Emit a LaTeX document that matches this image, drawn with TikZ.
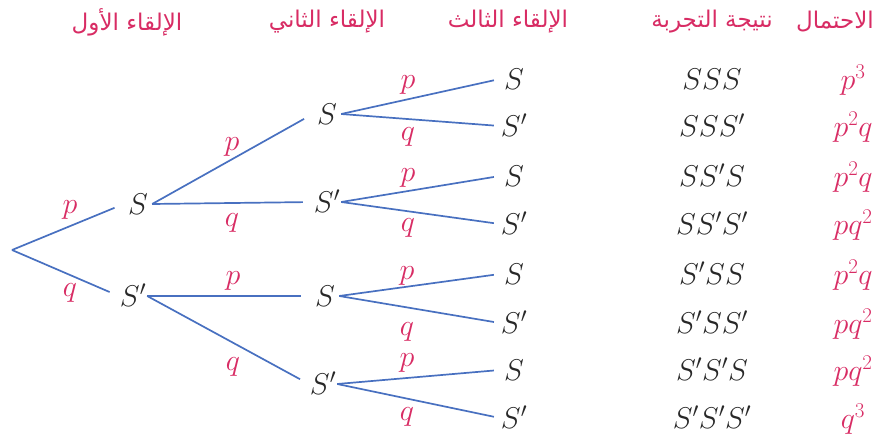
\RequirePackage{fix-cm}
\documentclass[tikz,border=0pt]{standalone}
\usepackage{fontspec}
\newfontfamily\arabicfont[Script=Arabic]{DejaVu Sans}
\TeXXeTstate=1
\definecolor{pk}{RGB}{216,44,100}
\definecolor{bl}{RGB}{72,112,192}
\definecolor{tx}{RGB}{40,40,40}
\begin{document}
\begin{tikzpicture}[x=1pt,y=-1pt,
  st/.style={inner sep=0pt, minimum width=28pt, text height=21pt, text depth=0pt,
    font=\fontsize{30}{34}\selectfont, text=tx},
  lab/.style={text=pk, font=\fontsize{30}{34}\selectfont, inner sep=0pt},
  hd/.style={text=pk, font=\arabicfont\fontsize{23}{26}\selectfont, inner sep=0pt},
  br/.style={draw=bl, line width=1.7pt, shorten >=10pt},
  brl/.style={draw=bl, line width=1.7pt, shorten >=6pt},
  outc/.style={text=tx, font=\fontsize{30}{34}\selectfont, inner sep=0pt, anchor=base},
  prob/.style={text=pk, font=\fontsize{30}{34}\selectfont, inner sep=0pt, anchor=base}]
\useasboundingbox (0,0) rectangle (889,438);
% headers
\node[hd] (h1) at (127,22) {\beginR الإلقاء الأول\endR};
\node[hd] (h2) at (327,22) {\beginR الإلقاء الثاني\endR};
\node[hd] (h3) at (508,22) {\beginR الإلقاء الثالث\endR};
\node[hd] (h4) at (712,22) {\beginR نتيجة التجربة\endR};
\node[hd] (h5) at (835,22) {\beginR الاحتمال\endR};
% tree nodes
\coordinate (r) at (12,250);
\node[st] (a) at (138,204) {$S$};
\node[st] (b) at (133,296) {$S'$};
\node[st] (aa) at (327,114) {$S$};
\node[st] (ab) at (327,202) {$S'$};
\node[st] (ba) at (325,296) {$S$};
\node[st] (bb) at (323,384) {$S'$};
\node[st] (aaa) at (514,79) {$S$};
\node[st] (aab) at (514,126) {$S'$};
\node[st] (aba) at (514,176) {$S$};
\node[st] (abb) at (514,224) {$S'$};
\node[st] (baa) at (514,274) {$S$};
\node[st] (bab) at (514,323) {$S'$};
\node[st] (bba) at (514,370) {$S$};
\node[st] (bbb) at (514,418) {$S'$};
% branches
\draw[br] (r) -- (a.west);
\draw[br] (r) -- (b.west);
\draw[br] (a.east) -- (aa.west);
\draw[br] (a.east) -- (ab.west);
\draw[br] (b.east) -- (ba.west);
\draw[br] (b.east) -- (bb.west);
\draw[brl] (aa.east) -- (aaa.west);
\draw[brl] (aa.east) -- (aab.west);
\draw[brl] (ab.east) -- (aba.west);
\draw[brl] (ab.east) -- (abb.west);
\draw[brl] (ba.east) -- (baa.west);
\draw[brl] (ba.east) -- (bab.west);
\draw[brl] (bb.east) -- (bba.west);
\draw[brl] (bb.east) -- (bbb.west);
% branch labels
\node[lab] (l1) at (70,210) {$p$};
\node[lab] (l2) at (70,293) {$q$};
\node[lab] (l3) at (232,147) {$p$};
\node[lab] (l4) at (232,223) {$q$};
\node[lab] (l5) at (233,281) {$p$};
\node[lab] (l6) at (233,367) {$q$};
\node[lab] (l7) at (408,85) {$p$};
\node[lab] (l8) at (408,137) {$q$};
\node[lab] (l9) at (408,178) {$p$};
\node[lab] (l10) at (408,228) {$q$};
\node[lab] (l11) at (407,276) {$p$};
\node[lab] (l12) at (407,332) {$q$};
\node[lab] (l13) at (407,363) {$p$};
\node[lab] (l14) at (407,417) {$q$};
% outcomes
\node[outc] (o1) at (712,89.5) {$SSS$};
\node[outc] (o2) at (712,136.5) {$SSS'$};
\node[outc] (o3) at (712,186.5) {$SS'S$};
\node[outc] (o4) at (712,234.5) {$SS'S'$};
\node[outc] (o5) at (712,284.5) {$S'SS$};
\node[outc] (o6) at (712,333.5) {$S'SS'$};
\node[outc] (o7) at (712,380.5) {$S'S'S$};
\node[outc] (o8) at (712,428.5) {$S'S'S'$};
% probabilities
\node[prob] (p1) at (853,89.5) {$p^3$};
\node[prob] (p2) at (853,136.5) {$p^2q$};
\node[prob] (p3) at (853,186.5) {$p^2q$};
\node[prob] (p4) at (853,234.5) {$pq^2$};
\node[prob] (p5) at (853,284.5) {$p^2q$};
\node[prob] (p6) at (853,333.5) {$pq^2$};
\node[prob] (p7) at (853,380.5) {$pq^2$};
\node[prob] (p8) at (853,428.5) {$q^3$};
\end{tikzpicture}
\end{document}
